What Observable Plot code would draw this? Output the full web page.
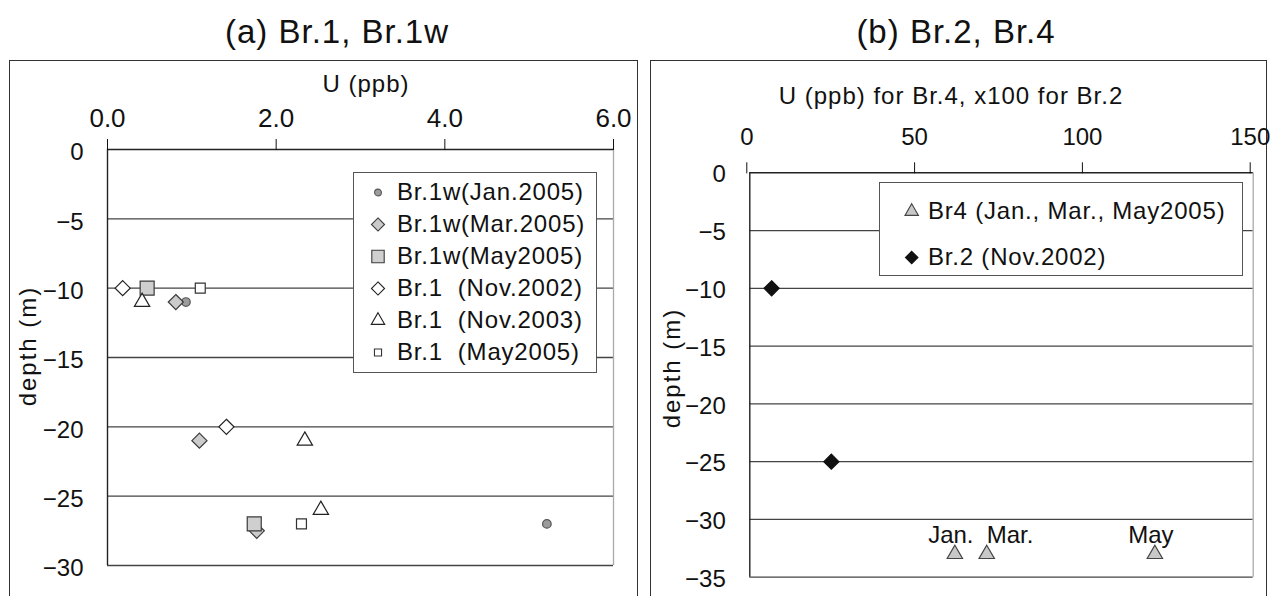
<!DOCTYPE html>
<html>
<head>
<meta charset="utf-8">
<script src="https://cdn.jsdelivr.net/npm/d3@7"></script>
<script src="https://cdn.jsdelivr.net/npm/@observablehq/plot@0.6"></script>
<style>
  html, body { margin: 0; padding: 0; background: #fff; overflow: hidden; }
  #root { position: relative; width: 1271px; height: 596px; overflow: hidden;
          font-family: "Liberation Sans", Arial, sans-serif; color: #111; }
  .frame { position: absolute; border: 1.5px solid #333; box-sizing: border-box; }
  .txt { position: absolute; line-height: 1; white-space: pre; transform: translateX(-50%); }
  .vtxt { position: absolute; line-height: 1; white-space: pre; transform: translate(-50%, -50%) rotate(-90deg); }
  .legend { position: absolute; border: 1.5px solid #555; box-sizing: border-box; background: #fff; }
  .legend svg text { letter-spacing: 0.8px; }
  .abs { position: absolute; }
  svg text { white-space: pre; }
</style>
</head>
<body>
<div id="root"></div>
<script>
// ---------------- data: panel (a) Br.1, Br.1w ----------------
const uTicksA = [0, 2, 4, 6];
const depthTicksA = [0, -5, -10, -15, -20, -25, -30];
const seriesA = ["Br.1w(Jan.2005)", "Br.1w(Mar.2005)", "Br.1w(May2005)", "Br.1  (Nov.2002)", "Br.1  (Nov.2003)", "Br.1  (May2005)"];
const br1wJanU = [0.93, 5.21];        const br1wJanDepth = [-11, -27];
const br1wMarU = [0.81, 1.09, 1.77];  const br1wMarDepth = [-11, -21, -27.5];
const br1wMayU = [0.47, 1.74];        const br1wMayDepth = [-10, -27];
const br1Nov02U = [0.18, 1.41];       const br1Nov02Depth = [-10, -20];
const br1Nov03U = [0.41, 2.34, 2.53]; const br1Nov03Depth = [-11, -21, -26];
const br1May05U = [1.10, 2.30];       const br1May05Depth = [-10, -27];

// ---------------- data: panel (b) Br.2, Br.4 ----------------
const uTicksB = [0, 50, 100, 150];
const depthTicksB = [0, -5, -10, -15, -20, -25, -30, -35];
const seriesB = ["Br4 (Jan., Mar., May2005)", "Br.2 (Nov.2002)"];
const br4U = [61.1, 70.6, 120.7];     const br4Depth = [-33, -33, -33];
const br4Labels = ["Jan.", "Mar.", "May"];
const br2U = [6.5, 24.3];             const br2Depth = [-10, -25];

// ---------------- styles ----------------
const styleA = [
  {symbol: "circle",   fill: "#9c9c9c", stroke: "#555", r: 4.3, lr: 3.4},
  {symbol: "diamond2", fill: "#cbcbcb", stroke: "#3a3a3a", r: 6.8, lr: 5.9},
  {symbol: "square",   fill: "#cfcfcf", stroke: "#3a3a3a", r: 7.9, lr: 7.0},
  {symbol: "diamond2", fill: "#fff",    stroke: "#222", r: 6.8, lr: 5.9},
  {symbol: "triangle", fill: "#fff",    stroke: "#222", r: 5.7, lr: 5.0},
  {symbol: "square",   fill: "#fff",    stroke: "#333", r: 5.6, lr: 4.0}
];
const styleB = [
  {symbol: "triangle", fill: "#c8c8c8", stroke: "#444", r: 5.7, lr: 5.0},
  {symbol: "diamond2", fill: "#111",    stroke: "#111", r: 6.8, lr: 5.6}
];

const rowsOf = (name, us, ds, labels) => us.map((u, i) => ({series: name, u, depth: ds[i], label: labels ? labels[i] : null}));
const dataA = [
  rowsOf(seriesA[0], br1wJanU, br1wJanDepth),
  rowsOf(seriesA[1], br1wMarU, br1wMarDepth),
  rowsOf(seriesA[2], br1wMayU, br1wMayDepth),
  rowsOf(seriesA[3], br1Nov02U, br1Nov02Depth),
  rowsOf(seriesA[4], br1Nov03U, br1Nov03Depth),
  rowsOf(seriesA[5], br1May05U, br1May05Depth)
];
const dataB = [
  rowsOf(seriesB[0], br4U, br4Depth, br4Labels),
  rowsOf(seriesB[1], br2U, br2Depth)
];

const root = document.getElementById("root");
function addDiv(cls, css, text) {
  const d = document.createElement("div");
  d.className = cls;
  Object.assign(d.style, css);
  if (text != null) d.textContent = text;
  root.appendChild(d);
  return d;
}

// panel frames
addDiv("frame", {left: "9px", top: "60px", width: "629px", height: "620px"});
addDiv("frame", {left: "650px", top: "60px", width: "617px", height: "620px"});

// titles
addDiv("txt", {left: "337px", top: "15px", fontSize: "33px", letterSpacing: "1px"}, "(a) Br.1, Br.1w");
addDiv("txt", {left: "956px", top: "15px", fontSize: "33px", letterSpacing: "1px"}, "(b) Br.2, Br.4");

function panel({width, height, marginLeft, marginRight, marginTop, marginBottom, xDomain, yDomain,
                xTicks, yTicks, xFormat, xTickPadding, xFont, xDx, yDy, data, styles, extra}) {
  return Plot.plot({
    width, height, marginLeft, marginRight, marginTop, marginBottom,
    style: {background: "transparent", fontFamily: '"Liberation Sans", Arial, sans-serif', fontSize: "24px", color: "#111", overflow: "visible"},
    x: {domain: xDomain},
    y: {domain: yDomain},
    marks: [
      Plot.gridY(yTicks.filter(d => d < 0), {stroke: "#444", strokeOpacity: 1, strokeWidth: 1.3}),
      Plot.ruleX([xDomain[1]], {stroke: "#aaa", strokeWidth: 1.3}),
      Plot.ruleY([0], {stroke: "#222", strokeWidth: 1.4}),
      Plot.ruleX([0], {stroke: "#222", strokeWidth: 1.4}),
      Plot.axisX({anchor: "top", ticks: xTicks, tickFormat: xFormat, tickSize: 11, tickPadding: xTickPadding, label: null, fontSize: xFont, dx: xDx}),
      Plot.axisY({anchor: "left", ticks: yTicks, tickFormat: d3.format("d"), tickSize: 0, tickPadding: 24, label: null, dy: yDy, fontSize: 24}),
      ...data.map((rows, i) => Plot.dot(rows, {
        x: "u", y: "depth", symbol: styles[i].symbol, r: styles[i].r,
        fill: styles[i].fill, stroke: styles[i].stroke, strokeWidth: 1.2
      })),
      ...(extra || [])
    ]
  });
}

// ---------- panel (a) ----------
const plotA = panel({
  width: 640, height: 536, marginLeft: 107, marginRight: 27, marginTop: 89, marginBottom: 31,
  xDomain: [0, 6], yDomain: [-30, 0], xTicks: uTicksA, yTicks: depthTicksA,
  xFormat: d3.format(".1f"), xTickPadding: 12, xFont: 26, xDx: 0, yDy: 3, data: dataA, styles: styleA
});
plotA.classList.add("abs");
Object.assign(plotA.style, {left: "0px", top: "60px"});
root.appendChild(plotA);

// ---------- panel (b) ----------
const labelRows = dataB[0];
const plotB = panel({
  width: 631, height: 536, marginLeft: 109.3, marginRight: 18.3, marginTop: 112.3, marginBottom: 19.3,
  xDomain: [0, 150], yDomain: [-35, 0], xTicks: uTicksB, yTicks: depthTicksB,
  xFormat: d3.format("d"), xTickPadding: 17, xFont: 24, xDx: -3, yDy: 2, data: dataB, styles: styleB,
  extra: [
    Plot.text(labelRows, {filter: d => d.label !== "Mar.", x: "u", y: "depth", text: "label", textAnchor: "middle", lineAnchor: "bottom", dy: -11, dx: -4, fontSize: 24, fill: "#111"}),
    Plot.text(labelRows, {filter: d => d.label === "Mar.", x: "u", y: "depth", text: "label", textAnchor: "start", lineAnchor: "bottom", dy: -11, dx: 0, fontSize: 24, fill: "#111"})
  ]
});
plotB.classList.add("abs");
Object.assign(plotB.style, {left: "640px", top: "60px"});
root.appendChild(plotB);

// axis titles
addDiv("txt", {left: "366px", top: "72px", fontSize: "24px", letterSpacing: "1px"}, "U (ppb)");
addDiv("txt", {left: "951px", top: "84px", fontSize: "24px", letterSpacing: "1px"}, "U (ppb) for Br.4, x100 for Br.2");
addDiv("vtxt", {left: "28px", top: "346px", fontSize: "24px", letterSpacing: "2px"}, "depth (m)");
addDiv("vtxt", {left: "672px", top: "368px", fontSize: "24px", letterSpacing: "2px"}, "depth (m)");

// ---------- legends (drawn with Plot) ----------
function legend({names, styles, left, top, width, height, mTop, mBottom, markerX, textX}) {
  const box = addDiv("legend", {left: left + "px", top: top + "px", width: width + "px", height: height + "px"});
  const items = names.map((name, i) => ({name, i}));
  const svg = Plot.plot({
    width: width - 3, height: height - 3,
    marginLeft: 0, marginRight: 0, marginTop: mTop, marginBottom: mBottom,
    style: {background: "transparent", fontFamily: '"Liberation Sans", Arial, sans-serif', color: "#111"},
    y: {type: "point", domain: names, padding: 0, axis: null},
    marks: [
      ...items.map(({name, i}) => Plot.dot([name], {
        y: d => d, frameAnchor: "left", dx: markerX,
        symbol: styles[i].symbol, r: styles[i].lr, fill: styles[i].fill, stroke: styles[i].stroke, strokeWidth: 1.1
      })),
      Plot.text(names, {y: d => d, text: d => d, frameAnchor: "left", dx: textX, textAnchor: "start", fontSize: 24, fill: "#111"})
    ]
  });
  svg.style.display = "block";
  box.appendChild(svg);
}
legend({names: seriesA, styles: styleA, left: 353, top: 172, width: 244, height: 201, mTop: 18.2, mBottom: 18.2, markerX: 23.5, textX: 42.5});
legend({names: seriesB, styles: styleB, left: 879, top: 182, width: 364, height: 94, mTop: 27.5, mBottom: 17.5, markerX: 31.2, textX: 47.5});
</script>
</body>
</html>
